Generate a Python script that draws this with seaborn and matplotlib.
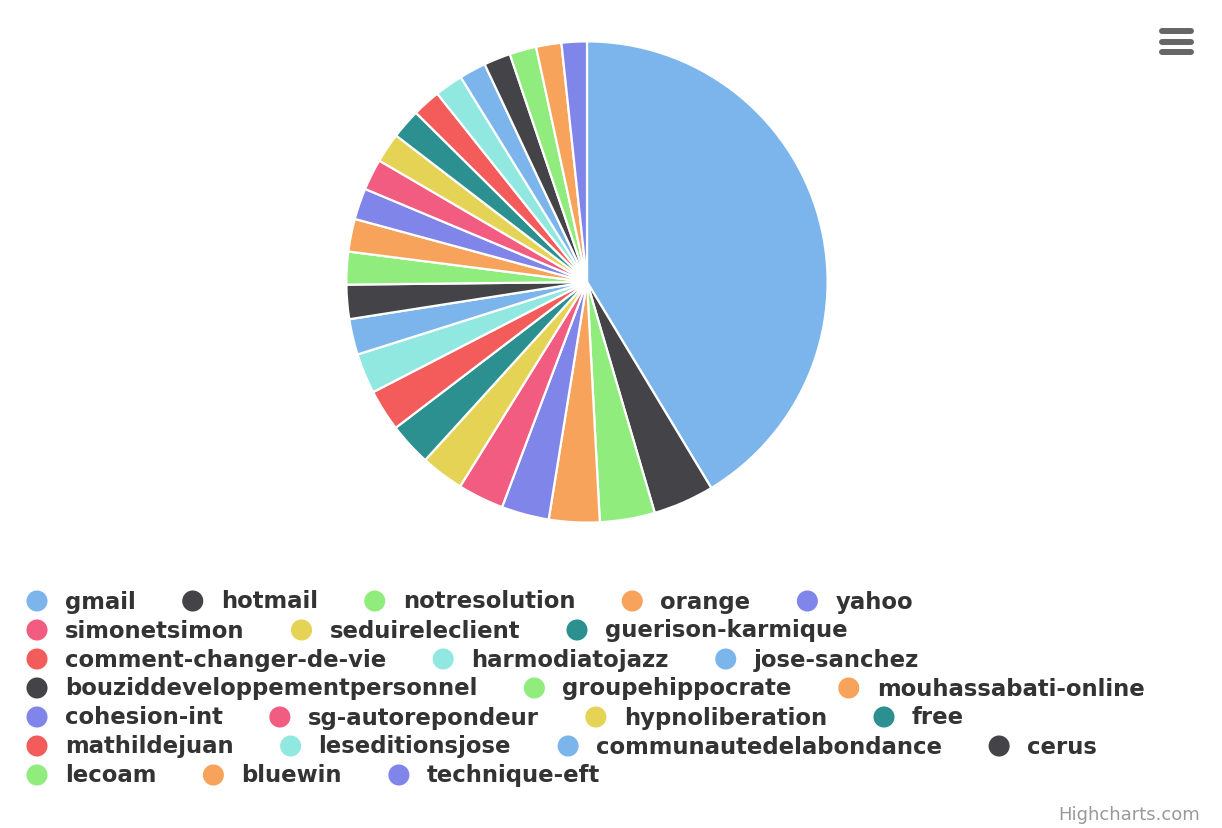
import numpy as np
import pandas as pd
import seaborn as sns
import matplotlib.pyplot as plt

# =========================================================
# DATA
# =========================================================

domains = [
    "gmail", "hotmail", "notresolution", "orange", "yahoo",
    "simonetsimon", "seduireleclient", "guerison-karmique",
    "comment-changer-de-vie", "harmodiatojazz", "jose-sanchez",
    "bouziddeveloppementpersonnel", "groupehippocrate", "mouhassabati-online",
    "cohesion-int", "sg-autorepondeur", "hypnoliberation", "free",
    "mathildejuan", "leseditionsjose", "communautedelabondance", "cerus",
    "lecoam", "bluewin", "technique-eft",
]

shares = [
    41.4, 4.1, 3.7, 3.4, 3.2,
    3.1, 2.9, 2.9,
    2.8, 2.7, 2.4,
    2.3, 2.2, 2.2,
    2.1, 2.1, 2.0, 2.0,
    1.9, 1.9, 1.8, 1.8,
    1.8, 1.7, 1.7,
]

df = pd.DataFrame({"domain": domains, "share": shares})

# highcharts default colours
hc_colors = ["#7cb5ec", "#434348", "#90ed7d", "#f7a35c", "#8085e9",
             "#f15c80", "#e4d354", "#2b908f", "#f45b5b", "#91e8e1"]

# legend rows (item counts per line)
legend_rows = [5, 3, 3, 3, 4, 4, 3]

# =========================================================
# FIGURE
# =========================================================

sns.set_theme(style="white")
plt.rcParams["font.family"] = ["DejaVu Sans"]

W, H = 1222, 829
fig = plt.figure(figsize=(W / 100, H / 100), dpi=100)
fig.patch.set_facecolor("white")

colors = [hc_colors[i % len(hc_colors)] for i in range(len(df))]

# pie
cx, cy, r = 587, 283, 243
ax = fig.add_axes([(cx - r) / W, (H - cy - r) / H, 2 * r / W, 2 * r / H])
ax.pie(
    df["share"],
    colors=colors,
    startangle=90,
    counterclock=False,
    wedgeprops=dict(edgecolor="white", linewidth=1.6),
)
ax.set_xlim(-1.01, 1.01)
ax.set_ylim(-1.01, 1.01)
ax.set_aspect("equal")
ax.axis("off")

# overlay in pixel coords
ov = fig.add_axes([0, 0, 1, 1], facecolor="none")
ov.set_xlim(0, W)
ov.set_ylim(H, 0)
ov.axis("off")

renderer = fig.canvas.get_renderer()

# fit legend font so the longest label is ~413 px wide
probe = ov.text(0, 0, "bouziddeveloppementpersonnel", fontsize=10, fontweight="bold")
pw = probe.get_window_extent(renderer).width
probe.remove()
fs = 10 * 413 / pw

idx = 0
y = 602
for n in legend_rows:
    x = 37
    for k in range(n):
        name = df["domain"][idx]
        ov.scatter([x], [y], s=230, color=colors[idx], edgecolors="none", zorder=3)
        t = ov.text(x + 28, y, name, fontsize=fs, fontweight="bold",
                    color="#333333", va="center", ha="left")
        w = t.get_window_extent(renderer).width
        x = x + 28 + w + 57
        idx += 1
    y += 29

# credits
ov.text(1200, 815, "Highcharts.com", fontsize=13, color="#999999",
        ha="right", va="center")

# menu icon
for yy in [32, 43, 53]:
    ov.plot([1162, 1191], [yy, yy], color="#666666", lw=4.3,
            solid_capstyle="round")

fig.savefig("out.png", dpi=100)
